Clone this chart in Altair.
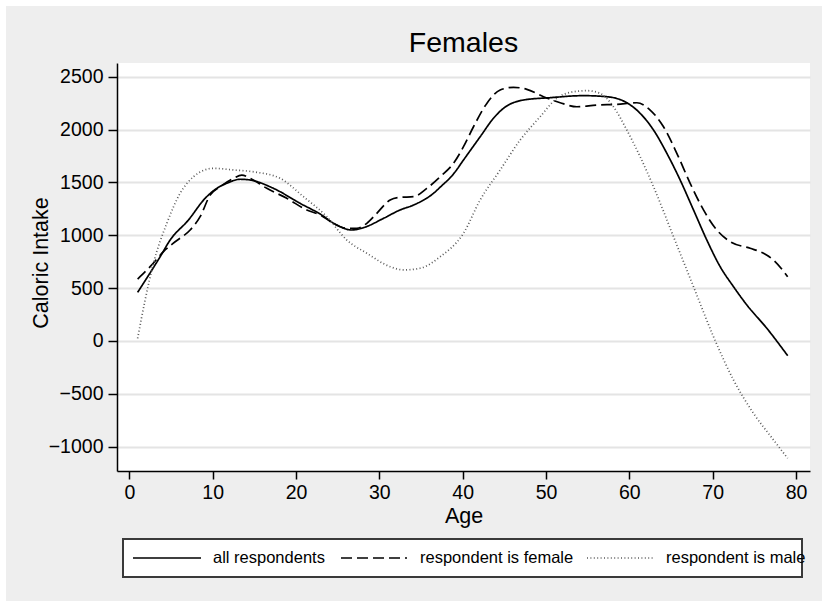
import altair as alt
import pandas as pd

FONT = "Liberation Sans, Arial, Helvetica, sans-serif"

SERIES = ["all respondents", "respondent is female", "respondent is male"]

# smoothed caloric intake by age, one curve per group
all_age = [1.0, 3.7, 4.9, 7.1, 9.1, 10.5, 11.7, 13.3, 14.5, 17.3, 20.5, 22.9, 24.9,
           26.7, 28.1, 30.5, 32.5, 34.1, 36.5, 37.3, 38.9, 40.1, 42.1, 43.7, 44.9,
           47.3, 50.5, 54.5, 57.3, 59.7, 61.3, 62.9, 64.5, 66.1, 67.7, 69.3, 70.9,
           72.5, 74.1, 76.5, 79.0]
all_kcal = [460, 797, 955, 1145, 1350, 1444, 1492, 1530, 1523, 1444, 1302, 1201, 1097,
            1050, 1072, 1160, 1240, 1286, 1397, 1455, 1580, 1712, 1932, 2107, 2201,
            2280, 2302, 2321, 2311, 2254, 2154, 1996, 1776, 1523, 1240, 955, 703,
            514, 341, 120, -139]

fem_age = [1.0, 2.5, 4.1, 5.5, 7.3, 8.5, 9.7, 10.9, 12.5, 13.5, 14.5, 16.5, 18.9,
           21.3, 22.9, 24.5, 26.1, 27.3, 28.5, 29.7, 31.3, 32.5, 34.1, 35.7, 37.3,
           38.9, 40.1, 41.3, 42.9, 44.5, 46.1, 47.7, 49.7, 51.7, 53.7, 56.1, 58.5,
           60.9, 62.5, 64.1, 65.7, 67.3, 68.9, 70.5, 72.1, 74.5, 76.1, 77.3, 79.0]
fem_kcal = [586, 703, 845, 939, 1050, 1176, 1381, 1460, 1539, 1570, 1539, 1444, 1350,
            1239, 1192, 1113, 1066, 1066, 1113, 1208, 1334, 1359, 1365, 1444, 1554,
            1681, 1838, 2027, 2248, 2374, 2400, 2381, 2311, 2254, 2216, 2232, 2239,
            2254, 2185, 2027, 1776, 1492, 1240, 1050, 939, 877, 830, 766, 608]

male_age = [1.0, 1.9, 2.9, 4.5, 6.1, 7.7, 10.1, 12.5, 15.3, 18.1, 20.9, 23.7, 26.1,
            28.5, 31.3, 32.9, 34.9, 37.3, 40.1, 42.1, 44.5, 46.9, 49.3, 51.3, 53.3,
            54.9, 56.5, 58.1, 59.7, 61.3, 62.9, 65.3, 67.7, 70.1, 72.5, 74.9, 77.3, 79.0]
male_kcal = [25, 388, 735, 1113, 1397, 1554, 1634, 1618, 1596, 1539, 1365, 1176, 955,
             830, 703, 672, 688, 797, 1019, 1334, 1618, 1901, 2122, 2296, 2358,
             2368, 2343, 2216, 1996, 1743, 1460, 987, 514, 41, -369, -684, -936, -1110]

X_TICKS = [0, 10, 20, 30, 40, 50, 60, 70, 80]
Y_TICKS = [-1000, -500, 0, 500, 1000, 1500, 2000, 2500]

rows = []
for name, ages, vals in zip(SERIES, [all_age, fem_age, male_age],
                            [all_kcal, fem_kcal, male_kcal]):
    for a, v in zip(ages, vals):
        rows.append({"series": name, "age": a, "kcal": v})
curves = pd.DataFrame(rows)

W, H = 693, 408
COLORS = ["#000000", "#000000", "#5a5a5a"]
DASHES = [[1, 0], [11, 5], [1, 2.4]]
WIDTHS = [1.7, 1.7, 1.3]

x_axis = alt.Axis(values=X_TICKS, title="Age", grid=False, labelFontSize=19.5,
                  labelPadding=4, tickSize=8, titleFontSize=21.5,
                  titleBaseline="alphabetic", titleY=51)
y_axis = alt.Axis(values=Y_TICKS, title="Caloric Intake", format="d", grid=True,
                  labelFontSize=19.5, labelPadding=5, tickSize=9, titleFontSize=21.5,
                  titleBaseline="alphabetic", titleX=-70, titleY=199.5)

lines = alt.Chart(curves).mark_line(interpolate="monotone").encode(
    x=alt.X("age:Q", scale=alt.Scale(domain=[-1.476, 81.68], nice=False, zero=False),
            axis=x_axis),
    y=alt.Y("kcal:Q", scale=alt.Scale(domain=[-1230, 2630], nice=False, zero=False),
            axis=y_axis),
    color=alt.Color("series:N", scale=alt.Scale(domain=SERIES, range=COLORS), legend=None),
    strokeDash=alt.StrokeDash("series:N", scale=alt.Scale(domain=SERIES, range=DASHES),
                              legend=None),
    strokeWidth=alt.StrokeWidth("series:N", scale=alt.Scale(domain=SERIES, range=WIDTHS),
                                legend=None),
)

one = pd.DataFrame({"k": [0]})

# white margin along the top and left edges of the page
strips = [
    alt.Chart(one).mark_rect(color="white").encode(
        x=alt.value(-117), x2=alt.value(705), y=alt.value(-63), y2=alt.value(-57)),
    alt.Chart(one).mark_rect(color="white").encode(
        x=alt.value(-117), x2=alt.value(-111), y=alt.value(-63), y2=alt.value(538)),
]

title = alt.Chart(one).mark_text(
    text="Females", fontSize=28.5, font=FONT, align="center", baseline="alphabetic",
    color="black").encode(x=alt.value(W / 2), y=alt.value(-11))

# legend box below the plot
legend_parts = [
    alt.Chart(one).mark_rect(fill="white", stroke="#3a3a3a", strokeWidth=2).encode(
        x=alt.value(6), x2=alt.value(685), y=alt.value(476), y2=alt.value(514)),
]
sample_x = [(16, 84), (224, 290), (470, 538)]
label_x = [96, 303, 549]
for i, name in enumerate(SERIES):
    x0, x1 = sample_x[i]
    legend_parts.append(
        alt.Chart(one).mark_rule(color=COLORS[i], strokeDash=DASHES[i],
                                 strokeWidth=WIDTHS[i]).encode(
            x=alt.value(x0), x2=alt.value(x1), y=alt.value(495)))
    legend_parts.append(
        alt.Chart(one).mark_text(text=name, fontSize=16.5, font=FONT, align="left",
                                 baseline="middle", color="black").encode(
            x=alt.value(label_x[i]), y=alt.value(495)))

chart = alt.layer(lines, *strips, title, *legend_parts).properties(
    width=W, height=H,
    autosize=alt.AutoSizeParams(type="none"),
    padding={"left": 117, "top": 63, "right": 12, "bottom": 130},
    background="#eeeeee",
).configure_view(
    fill="white", stroke=None,
).configure_axis(
    labelFont=FONT, titleFont=FONT, labelColor="black", titleColor="black",
    titleFontWeight="normal", domainColor="black", domainWidth=1.5,
    tickColor="black", tickWidth=1.5, gridColor="#e4e4e4", gridWidth=2,
)

chart.save("out.html", embed_options={"renderer": "svg", "actions": False})
